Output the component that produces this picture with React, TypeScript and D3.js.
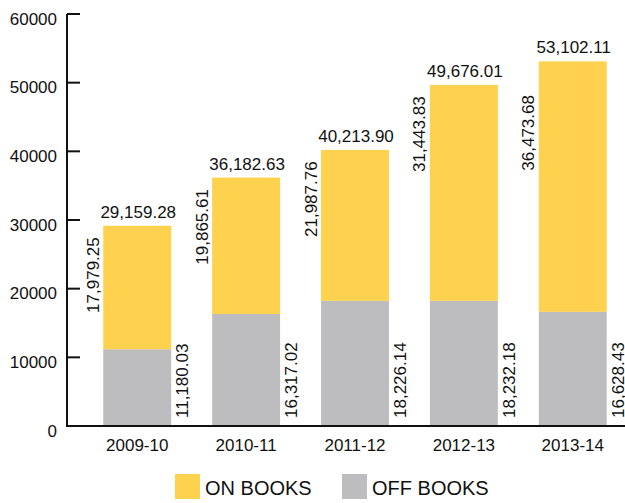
import React from "react";
import * as d3 from "d3";

const categories = ["2009-10", "2010-11", "2011-12", "2012-13", "2013-14"];
const offBooks = [11180.03, 16317.02, 18226.14, 18232.18, 16628.43];
const onBooks = [17979.25, 19865.61, 21987.76, 31443.83, 36473.68];
const totals = [29159.28, 36182.63, 40213.9, 49676.01, 53102.11];
const yTicks = [0, 10000, 20000, 30000, 40000, 50000, 60000];
const seriesNames = ["ON BOOKS", "OFF BOOKS"];

const W = 625;
const H = 503;
const YELLOW = "#FED14F";
const GRAY = "#BDBDC0";
const FONT = "'Liberation Sans', Arial, Helvetica, sans-serif";

const fmt = (v: number) => d3.format(",.2f")(v);

export default function App() {
  const x = d3
    .scaleBand<string>()
    .domain(categories)
    .range([67, 643])
    .paddingInner(0.376)
    .paddingOuter(0.333);
  const y = d3.scaleLinear().domain([0, 60000]).range([426, 14]);

  const data = categories.map((c, i) => ({
    c,
    off: offBooks[i],
    on: onBooks[i],
    total: totals[i],
  }));
  const stack = d3.stack<any>().keys(["off", "on"])(data);
  const colors: Record<string, string> = { off: GRAY, on: YELLOW };
  const bw = x.bandwidth();
  const labelCap = y(48200);

  return (
    <svg
      width={W}
      height={H}
      style={{ position: "absolute", left: 0, top: 0, background: "#fff" }}
      fontFamily={FONT}
    >
      {stack.map((s) => (
        <g key={s.key} fill={colors[s.key]}>
          {s.map((d, i) => (
            <rect
              key={i}
              x={x(categories[i])}
              y={y(d[1])}
              width={bw}
              height={y(d[0]) - y(d[1])}
            />
          ))}
        </g>
      ))}

      {/* y axis */}
      <line x1={67} x2={67} y1={y(60000)} y2={y(0) + 1} stroke="#111" strokeWidth={2} />
      {yTicks.map((t) => (
        <g key={t}>
          {t > 0 && (
            <line x1={67} x2={80} y1={y(t)} y2={y(t)} stroke="#111" strokeWidth={2} />
          )}
          <text
            x={57}
            y={y(t) + 10.5}
            textAnchor="end"
            fontSize={17}
            fill="#111"
          >
            {t}
          </text>
        </g>
      ))}
      {/* x axis */}
      <line x1={66} x2={625} y1={y(0)} y2={y(0)} stroke="#111" strokeWidth={2} />
      {categories.map((c) => (
        <text
          key={c}
          x={(x(c) as number) + bw / 2}
          y={451}
          textAnchor="middle"
          fontSize={17}
          fill="#111"
        >
          {c}
        </text>
      ))}

      {/* labels */}
      {data.map((d) => {
        const bx = x(d.c) as number;
        const top = y(d.total);
        const onY = Math.max(top + 11.5, labelCap);
        return (
          <g key={d.c} fontSize={17} fill="#111">
            <text x={bx + bw / 2 + 1} y={top - 8} textAnchor="middle">
              {fmt(d.total)}
            </text>
            <text
              transform={`translate(${bx - 4.5},${onY}) rotate(-90)`}
              textAnchor="end"
            >
              {fmt(d.on)}
            </text>
            <text
              transform={`translate(${bx + bw + 17},${y(0) - 8}) rotate(-90)`}
              textAnchor="start"
            >
              {fmt(d.off)}
            </text>
          </g>
        );
      })}

      {/* legend */}
      <g fontSize={20} fill="#111">
        <rect x={175} y={474} width={25} height={25} fill={YELLOW} />
        <text x={205} y={495}>
          {seriesNames[0]}
        </text>
        <rect x={342} y={474} width={25} height={25} fill={GRAY} />
        <text x={372} y={495}>
          {seriesNames[1]}
        </text>
      </g>
    </svg>
  );
}
